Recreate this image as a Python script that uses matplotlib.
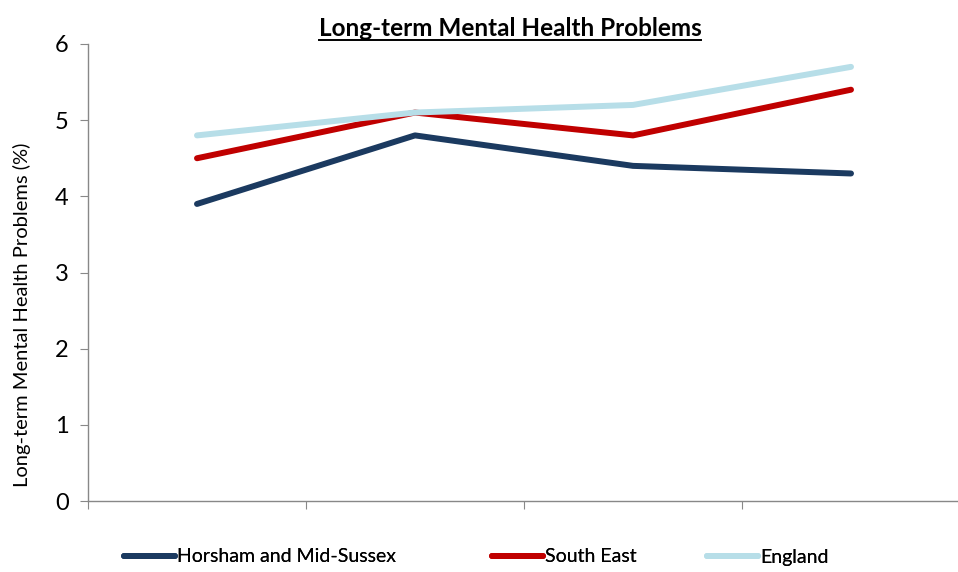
import matplotlib
matplotlib.use("Agg")
import matplotlib.pyplot as plt
from matplotlib.lines import Line2D

plt.rcParams['font.family'] = ['Lato', 'DejaVu Sans']

# data (4 unlabelled periods)
periods = [0, 1, 2, 3]
horsham = [3.9, 4.8, 4.4, 4.3]
south_east = [4.5, 5.1, 4.8, 5.4]
england = [4.8, 5.1, 5.2, 5.7]
series_names = ['Horsham and Mid-Sussex', 'South East', 'England']
colours = ['#1b3a60', '#c00000', '#b7dee8']

fig = plt.figure(figsize=(9.58, 5.72), dpi=100)
ax = fig.add_axes([88 / 958, 1 - 501 / 572, 872 / 958, 457 / 572])

lines = []
for vals, name, col in zip([horsham, south_east, england], series_names, colours):
    ln, = ax.plot(periods, vals, color=col, lw=4.3, label=name, solid_capstyle='round')
    lines.append(ln)

ax.set_ylim(0, 6)
ax.set_xlim(-0.5, 3.5)
ax.set_yticks(range(0, 7))
ax.set_xticks([-0.5, 0.5, 1.5, 2.5, 3.5])
ax.set_xticklabels([])
ax.tick_params(axis='y', labelsize=17, length=6, color='#888888', pad=8)
ax.tick_params(axis='x', length=6, color='#888888')
for s in ['top', 'right']:
    ax.spines[s].set_visible(False)
for s in ['left', 'bottom']:
    ax.spines[s].set_color('#888888')
    ax.spines[s].set_linewidth(1.0)

fig.text(22 / 958, 1 - 315 / 572, 'Long-term Mental Health Problems (%)',
         rotation=90, ha='center', va='center', fontsize=14.5)

# title, underlined by hand
title = fig.text(510 / 958, 1 - 28 / 572, 'Long-term Mental Health Problems',
                 ha='center', va='center', fontsize=17.5, fontweight='bold')
fig.canvas.draw()
bb = title.get_window_extent().transformed(fig.transFigure.inverted())
fig.add_artist(Line2D([bb.x0, bb.x1], [bb.y0 - 0.001, bb.y0 - 0.001],
                      transform=fig.transFigure, color='black', lw=1.4))

# legend entries sit in equal slots like the original, so place each one
legend_x = [124, 492, 707]
for ln, x in zip(lines, legend_x):
    leg = fig.legend(handles=[ln], loc='center left',
                     bbox_to_anchor=(x / 958, 1 - 557 / 572), frameon=False,
                     fontsize=14, handlelength=2.6, handletextpad=0.15,
                     borderpad=0, borderaxespad=0)
    fig.add_artist(leg)

fig.savefig('out.png', dpi=100)
